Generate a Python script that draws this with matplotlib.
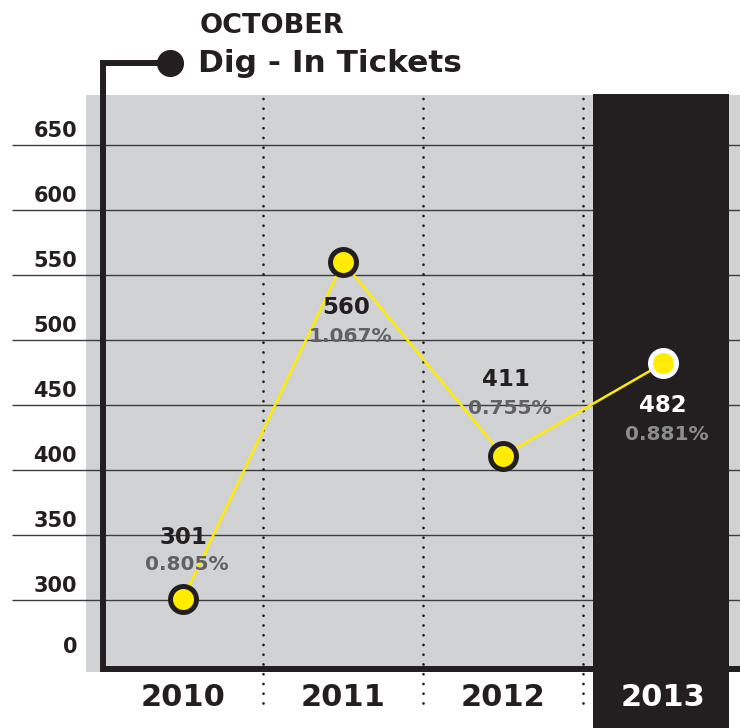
import matplotlib
matplotlib.use('Agg')
import matplotlib.pyplot as plt
from matplotlib.patches import Rectangle

years = ['2010', '2011', '2012', '2013']
tickets = [301, 560, 411, 482]
shares = ['0.805%', '1.067%', '0.755%', '0.881%']
y_ticks = [300, 350, 400, 450, 500, 550, 600, 650]
y_labels = ['300', '350', '400', '450', '500', '550', '600', '650']
base_label = '0'
title_top = 'OCTOBER'
title_main = 'Dig - In Tickets'

DARK = '#231f20'
GREY = '#d1d2d4'
YELLOW = '#ffec00'
plt.rcParams['font.family'] = ['DejaVu Sans']

W, H = 740, 728
fig = plt.figure(figsize=(W / 100, H / 100), dpi=100)
ax = fig.add_axes([0, 0, 1, 1])

# pixel -> data helpers (first year sits at x=183px, 300 tickets at y=600px)
X0, XS = 183, 160
Y0, YS = 600, 1.3
def px(x):
    return (x - X0) / XS
def py(y):
    return 300 + (Y0 - y) / YS

ax.set_xlim(px(0), px(W))
ax.set_ylim(py(H), py(0))
ax.axis('off')

# grey panel
ax.add_patch(Rectangle((px(86), py(672)), px(W) - px(86), py(95) - py(672),
                       color=GREY, lw=0, zorder=0))
# grid lines
ax.hlines(y_ticks, px(12), px(W), color='#3c3c3c', lw=1.0, zorder=1)

# highlighted last year column
last = len(years) - 1
ax.add_patch(Rectangle((last - 0.44, py(H)), 0.85, py(94) - py(H),
                       color=DARK, lw=0, zorder=2))

# dotted dividers between years
for i in range(len(years) - 1):
    ax.plot([i + 0.5, i + 0.5], [py(703), py(97)], color=DARK, lw=2,
            ls=(0, (0.01, 3.5)), dash_capstyle='round', zorder=3)

# thick axis frame with dot at top
ax.plot([px(170), px(103), px(103), px(W)], [py(63), py(63), py(669), py(669)],
        color=DARK, lw=4.3, solid_joinstyle='miter', solid_capstyle='butt', zorder=5)
ax.plot(px(170), py(63), 'o', ms=18.5, color=DARK, zorder=5)

# y tick labels
for v, lab in zip(y_ticks, y_labels):
    ax.text(px(77), v + 8 / YS, lab, ha='right', va='baseline',
            fontsize=15, fontweight='bold', color=DARK)
ax.text(px(77), py(653), base_label, ha='right', va='baseline',
        fontsize=15, fontweight='bold', color=DARK)

# line and markers
xs = list(range(len(years)))
ax.plot(xs, tickets, color=YELLOW, lw=1.8, zorder=6)
for i, v in enumerate(tickets):
    edge = 'white' if i == last else DARK
    ax.plot(i, v, 'o', ms=18.7, mfc=YELLOW, mec=edge, mew=3.6, zorder=7)

# value labels (offsets in pixels: dx, dy number, dy share)
offs = [(0, -61, -34), (3, 45, 74), (3, -76, -47), (0, 42, 71)]
for i, (v, s) in enumerate(zip(tickets, shares)):
    dx, dn, ds = offs[i]
    ncol = 'white' if i == last else DARK
    scol = '#8c8c8e' if i == last else '#616163'
    ax.annotate(str(v), (i, v), xytext=(dx * 0.72, -dn * 0.72), textcoords='offset points',
                ha='center', va='center', fontsize=16.5, fontweight='bold', color=ncol, zorder=8)
    ax.annotate(s, (i, v), xytext=(dx * 0.72 + 3, -ds * 0.72), textcoords='offset points',
                ha='center', va='center', fontsize=14.5, fontweight='bold', color=scol, zorder=8)

# year labels
for i, yr in enumerate(years):
    ax.text(i, py(697), yr, ha='center', va='center', fontsize=22,
            fontweight='bold', color='white' if i == last else DARK, zorder=8)

# title
ax.text(px(200), py(33), title_top, ha='left', va='baseline', fontsize=19.5,
        fontweight='bold', color=DARK)
ax.text(px(198), py(72), title_main, ha='left', va='baseline', fontsize=22.5,
        fontweight='bold', color=DARK)

fig.savefig('out.png', dpi=100)
